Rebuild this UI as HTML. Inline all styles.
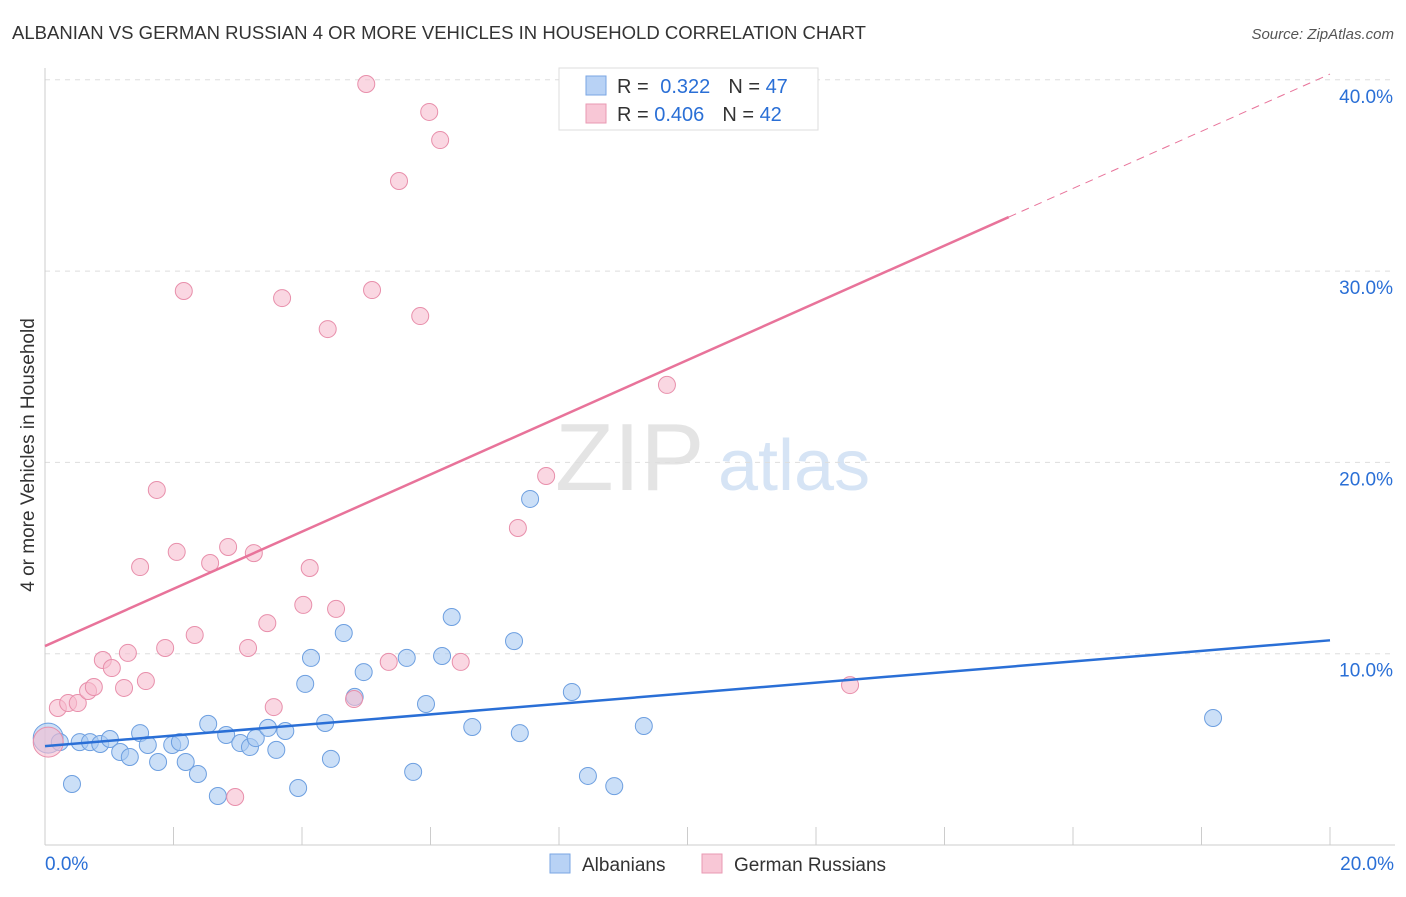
<!DOCTYPE html>
<html><head><meta charset="utf-8"><style>
body{margin:0;background:#fff;font-family:"Liberation Sans",sans-serif;}
svg text{font-family:"Liberation Sans",sans-serif;}
</style></head><body>
<svg id="c" width="1406" height="892">
<text x="12" y="39" font-size="18" fill="#333" textLength="854" lengthAdjust="spacingAndGlyphs">ALBANIAN VS GERMAN RUSSIAN 4 OR MORE VEHICLES IN HOUSEHOLD CORRELATION CHART</text>
<text x="1394" y="39" font-size="15" fill="#555" font-style="italic" text-anchor="end">Source: ZipAtlas.com</text>
<text x="34" y="455" font-size="19" fill="#333" text-anchor="middle" transform="rotate(-90 34 455)">4 or more Vehicles in Household</text>
<text x="555" y="490" font-size="96" fill="#e4e4e4" font-family="Liberation Serif">ZIP</text>
<text x="718" y="490" font-size="72" fill="#d6e4f5">atlas</text>
<g id="grid"></g><g id="axes"></g><g id="pts"></g><g id="lines"></g>
<g>
<rect x="559" y="68" width="259" height="62" fill="#fff" stroke="#ddd"/>
<rect x="586" y="76" width="20" height="19" fill="#b8d2f5" stroke="#7aa6e3"/>
<rect x="586" y="104" width="20" height="19" fill="#f8c7d6" stroke="#e99ab3"/>
<text x="617" y="93" font-size="20" fill="#333">R = <tspan fill="#2a6fd6" dx="6">0.322</tspan><tspan dx="18" fill="#333">N = </tspan><tspan fill="#2a6fd6">47</tspan></text>
<text x="617" y="121" font-size="20" fill="#333">R = <tspan fill="#2a6fd6">0.406</tspan><tspan dx="18" fill="#333">N = </tspan><tspan fill="#2a6fd6">42</tspan></text>
</g>
<g>
<rect x="550" y="854" width="20" height="19" fill="#b8d2f5" stroke="#7aa6e3"/>
<text x="582" y="871" font-size="19" fill="#333">Albanians</text>
<rect x="702" y="854" width="20" height="19" fill="#f8c7d6" stroke="#e99ab3"/>
<text x="734" y="871" font-size="19" fill="#333">German Russians</text>
</g>
</svg>
<script>
const yTicks=[10,20,30,40];
const yTickLabels=["10.0%","20.0%","30.0%","40.0%"];
const xTicks=[0,2,4,6,8,10,12,14,16,18,20];
const blueX=[0.05,0.23,0.42,0.54,0.70,0.86,1.01,1.17,1.32,1.48,1.60,1.76,1.98,2.10,2.19,2.38,2.54,2.69,2.82,3.04,3.19,3.28,3.47,3.60,3.74,3.94,4.05,4.14,4.36,4.45,4.65,4.82,4.96,5.63,5.73,5.93,6.18,6.33,6.65,7.30,7.39,7.55,8.20,8.45,8.86,9.32,18.18];
const blueY=[5.59,5.38,3.19,5.38,5.38,5.28,5.54,4.86,4.60,5.85,5.23,4.34,5.23,5.38,4.34,3.71,6.33,2.56,5.75,5.33,5.12,5.59,6.12,4.97,5.96,2.98,8.42,9.78,6.38,4.50,11.08,7.74,9.04,9.78,3.82,7.37,9.88,11.92,6.17,10.66,5.85,18.09,8.00,3.61,3.08,6.22,6.64];
const pinkX=[0.05,0.20,0.36,0.51,0.67,0.76,0.90,1.04,1.23,1.29,1.48,1.57,1.74,1.87,2.05,2.16,2.33,2.57,2.85,2.96,3.16,3.25,3.46,3.56,3.69,4.02,4.12,4.40,4.53,4.81,5.00,5.09,5.35,5.51,5.84,5.98,6.15,6.47,7.36,7.80,9.68,12.53];
const pinkY=[5.38,7.16,7.42,7.42,8.05,8.26,9.67,9.25,8.21,10.04,14.53,8.57,18.56,10.30,15.32,28.96,10.98,14.74,15.58,2.51,10.30,15.26,11.60,7.21,28.59,12.55,14.48,26.97,12.34,7.63,39.78,29.01,9.57,34.71,27.65,38.32,36.85,9.57,16.57,19.29,24.05,8.36];
const blueLine=[5.17,10.7];
const pinkLine=[10.4,40.3];
const pinkSolidEnd=15.0;
const NS="http://www.w3.org/2000/svg";
const X=v=>45+v*64.25, Y=v=>845-v*19.13;
function mk(tag,at,parent){const e=document.createElementNS(NS,tag);for(const k in at)e.setAttribute(k,at[k]);document.getElementById(parent).appendChild(e);return e;}
yTicks.forEach((t,i)=>{
 const l=mk('line',{x1:45,x2:1395,y1:Y(t),y2:Y(t),stroke:'#ddd','stroke-dasharray':'5,5'},'grid');
 
 
 const tx=mk('text',{x:1393,y:Y(t)+23,'font-size':19,fill:'#2a6fd6','text-anchor':'end'},'grid');tx.textContent=yTickLabels[i];
 
 
});
mk('line',{x1:45,x2:45,y1:68,y2:845,stroke:'#ccc'},'axes');
mk('line',{x1:45,x2:1395,y1:845,y2:845,stroke:'#ccc'},'axes');
xTicks.forEach(t=>{const l=mk('line',{x1:X(t),x2:X(t),y1:827,y2:845,stroke:'#ccc'},'axes');
 
 });
let a=mk('text',{x:45,y:870,'font-size':19,fill:'#2a6fd6'},'axes');a.textContent='0.0%';


a=mk('text',{x:1394,y:870,'font-size':19,fill:'#2a6fd6','text-anchor':'end'},'axes');a.textContent='20.0%';


function pts(xs,ys,fill,stroke,name){xs.forEach((x,i)=>{const c=mk('circle',{cx:X(x),cy:Y(ys[i]),r:i==0?15:8.5,fill:fill,'fill-opacity':0.6,stroke:stroke,'stroke-width':1},'pts');
 
 });}
pts(blueX,blueY,'#a9c9f2','#6d9fe0','albanian-point');
pts(pinkX,pinkY,'#f7bccf','#e88fab','german-russian-point');
let bl=mk('line',{x1:X(0),y1:Y(blueLine[0]),x2:X(20),y2:Y(blueLine[1]),stroke:'#2a6fd6','stroke-width':2.5},'lines');


const py=x=>pinkLine[0]+(pinkLine[1]-pinkLine[0])*x/20;
let pl=mk('line',{x1:X(0),y1:Y(py(0)),x2:X(pinkSolidEnd),y2:Y(py(pinkSolidEnd)),stroke:'#e8739a','stroke-width':2.5},'lines');


let pd=mk('line',{x1:X(pinkSolidEnd),y1:Y(py(pinkSolidEnd)),x2:X(20),y2:Y(py(20)),stroke:'#e8739a','stroke-width':1,'stroke-dasharray':'8,6'},'lines');


</script>
</body></html>
